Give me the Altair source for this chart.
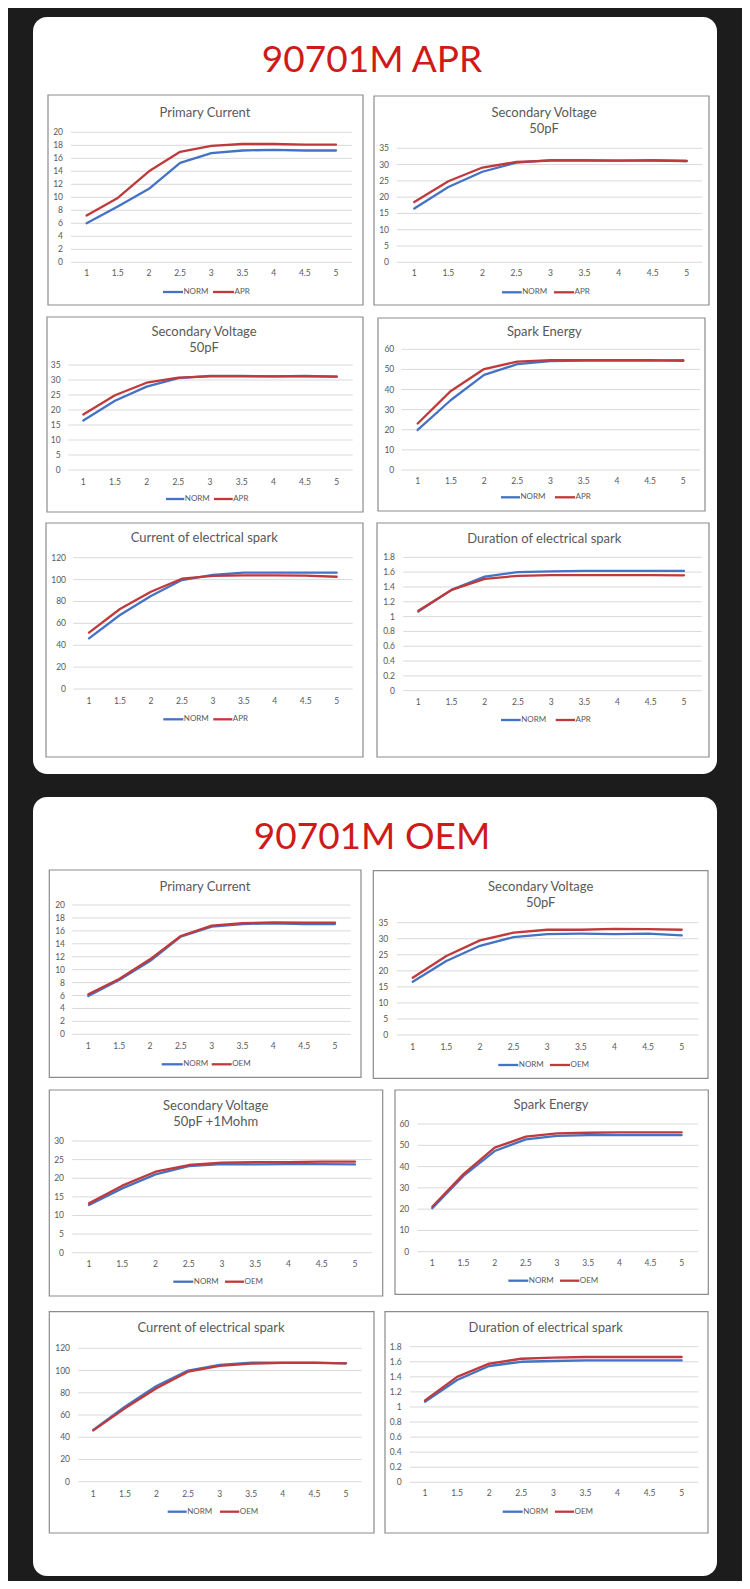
import altair as alt
import pandas as pd

FONT = "Lato"
BLUE = "#4472C4"
RED = "#C0393B"
GRID = "#D9D9D9"
TXT = "#595959"
BORDER = "#8C8C8C"
TITLE_RED = "#CF1A1A"
BG = "#1c1c1c"

# ---------------- data ----------------
x_vals = [1, 1.5, 2, 2.5, 3, 3.5, 4, 4.5, 5]
x_labels = ["1", "1.5", "2", "2.5", "3", "3.5", "4", "4.5", "5"]

ticks_20 = [0, 2, 4, 6, 8, 10, 12, 14, 16, 18, 20]
labels_20 = ["0", "2", "4", "6", "8", "10", "12", "14", "16", "18", "20"]
ticks_35 = [0, 5, 10, 15, 20, 25, 30, 35]
labels_35 = ["0", "5", "10", "15", "20", "25", "30", "35"]
ticks_30 = [0, 5, 10, 15, 20, 25, 30]
labels_30 = ["0", "5", "10", "15", "20", "25", "30"]
ticks_60 = [0, 10, 20, 30, 40, 50, 60]
labels_60 = ["0", "10", "20", "30", "40", "50", "60"]
ticks_120 = [0, 20, 40, 60, 80, 100, 120]
labels_120 = ["0", "20", "40", "60", "80", "100", "120"]
ticks_18 = [0, 0.2, 0.4, 0.6, 0.8, 1.0, 1.2, 1.4, 1.6, 1.8]
labels_18 = ["0", "0.2", "0.4", "0.6", "0.8", "1", "1.2", "1.4", "1.6", "1.8"]

# 90701M APR
apr_primary_norm = [6.0, 8.6, 11.3, 15.3, 16.8, 17.2, 17.3, 17.2, 17.2]
apr_primary_apr = [7.2, 9.9, 14.0, 17.0, 17.9, 18.2, 18.2, 18.1, 18.1]
apr_sv_norm = [16.5, 23.1, 27.8, 30.6, 31.4, 31.4, 31.2, 31.4, 31.1]
apr_sv_apr = [18.5, 24.9, 29.1, 30.8, 31.2, 31.2, 31.2, 31.2, 31.1]
apr_energy_norm = [19.9, 34.8, 47.3, 52.6, 54.1, 54.4, 54.4, 54.4, 54.6]
apr_energy_apr = [23.1, 39.3, 50.2, 53.9, 54.6, 54.6, 54.6, 54.6, 54.2]
apr_current_norm = [46.3, 67.6, 85.0, 99.6, 104.2, 106.3, 106.3, 106.3, 106.3]
apr_current_apr = [51.5, 73.1, 88.9, 100.8, 103.3, 103.9, 103.9, 103.6, 102.6]
apr_duration_norm = [1.067, 1.36, 1.54, 1.60, 1.61, 1.616, 1.616, 1.616, 1.616]
apr_duration_apr = [1.08, 1.36, 1.51, 1.55, 1.56, 1.56, 1.56, 1.56, 1.557]

# 90701M OEM
oem_primary_norm = [5.93, 8.4, 11.34, 15.1, 16.65, 17.06, 17.16, 17.06, 17.06]
oem_primary_oem = [6.19, 8.56, 11.6, 15.2, 16.8, 17.2, 17.3, 17.27, 17.27]
oem_sv_norm = [16.6, 23.05, 27.8, 30.5, 31.46, 31.57, 31.46, 31.57, 31.05]
oem_sv_oem = [17.86, 24.6, 29.5, 31.9, 32.8, 32.8, 33.1, 33.0, 32.8]
oem_sv1m_norm = [12.8, 17.28, 21.04, 23.28, 23.8, 23.7, 23.8, 23.8, 23.7]
oem_sv1m_oem = [13.25, 18.0, 21.75, 23.55, 24.17, 24.35, 24.35, 24.44, 24.44]
oem_energy_norm = [20.4, 35.6, 47.3, 52.8, 54.4, 54.8, 54.8, 54.8, 54.8]
oem_energy_oem = [21.15, 36.5, 48.9, 54.05, 55.6, 55.9, 56.1, 56.1, 56.1]
oem_current_norm = [46.5, 67.5, 86.1, 99.9, 105.0, 107.1, 107.1, 107.1, 106.5]
oem_current_oem = [46.2, 66.0, 84.0, 99.0, 104.1, 106.2, 106.8, 106.8, 106.5]
oem_duration_norm = [1.07, 1.358, 1.544, 1.60, 1.61, 1.619, 1.619, 1.619, 1.619]
oem_duration_oem = [1.088, 1.40, 1.575, 1.64, 1.654, 1.663, 1.663, 1.663, 1.663]

# ---------------- layout (page pixel positions) ----------------
CARDS = [
    dict(title="90701M APR", left=33, top=17, width=684, height=757, tx=372, ty=61),
    dict(title="90701M OEM", left=33, top=797, width=684, height=779, tx=372, ty=838),
]

PANELS = [
    dict(card=0, title=["Primary Current"], norm=apr_primary_norm, other=apr_primary_apr, name="APR",
         ticks=ticks_20, tick_labels=labels_20, ymax=20,
         box=(48, 95, 363, 305), tcx=205, tcy=[113], y0=262.3, ytop=132.3, gx=(71, 352), ylx=63,
         xr=(86.6, 336), xly=273, ly=292, l1=(163, 183), l2=(213, 234)),
    dict(card=0, title=["Secondary Voltage", "50pF"], norm=apr_sv_norm, other=apr_sv_apr, name="APR",
         ticks=ticks_35, tick_labels=labels_35, ymax=35,
         box=(374, 96, 709, 305), tcx=544, tcy=[112.7, 129], y0=262.3, ytop=148.3, gx=(396.7, 702), ylx=389,
         xr=(414.3, 686.7), xly=273.3, ly=292.3, l1=(502, 521.7), l2=(554, 574)),
    dict(card=0, title=["Secondary Voltage", "50pF"], norm=apr_sv_norm, other=apr_sv_apr, name="APR",
         ticks=ticks_35, tick_labels=labels_35, ymax=35,
         box=(47, 317, 363, 512), tcx=204, tcy=[331.7, 347.7], y0=470, ytop=365, gx=(68.3, 352.7), ylx=60.7,
         xr=(83.3, 336.7), xly=481.7, ly=499, l1=(166, 184.3), l2=(214, 232.7)),
    dict(card=0, title=["Spark Energy"], norm=apr_energy_norm, other=apr_energy_apr, name="APR",
         ticks=ticks_60, tick_labels=labels_60, ymax=60,
         box=(378, 318, 705, 511), tcx=544.3, tcy=[332.3], y0=470, ytop=349.3, gx=(401.7, 700), ylx=394.3,
         xr=(417.7, 683.3), xly=481, ly=497.3, l1=(501, 520), l2=(555, 575)),
    dict(card=0, title=["Current of electrical spark"], norm=apr_current_norm, other=apr_current_apr, name="APR",
         ticks=ticks_120, tick_labels=labels_120, ymax=120,
         box=(46, 523, 363, 757), tcx=204.3, tcy=[538.3], y0=689, ytop=557.7, gx=(73.3, 352.7), ylx=66,
         xr=(89, 336.7), xly=700.7, ly=719.3, l1=(163.3, 183.3), l2=(213.3, 232.3)),
    dict(card=0, title=["Duration of electrical spark"], norm=apr_duration_norm, other=apr_duration_apr, name="APR",
         ticks=ticks_18, tick_labels=labels_18, ymax=1.8,
         box=(377, 523, 709, 757), tcx=544.3, tcy=[539], y0=690.7, ytop=557.3, gx=(403.3, 701.7), ylx=395,
         xr=(418.3, 684), xly=702.3, ly=720, l1=(501, 520.7), l2=(555.7, 575)),
    dict(card=1, title=["Primary Current"], norm=oem_primary_norm, other=oem_primary_oem, name="OEM",
         ticks=ticks_20, tick_labels=labels_20, ymax=20,
         box=(49.3, 870, 361, 1077.3), tcx=205, tcy=[886.7], y0=1034.3, ytop=905, gx=(72.3, 350.7), ylx=65,
         xr=(88.3, 335), xly=1045.7, ly=1064.3, l1=(161.7, 182.7), l2=(211.7, 231.7)),
    dict(card=1, title=["Secondary Voltage", "50pF"], norm=oem_sv_norm, other=oem_sv_oem, name="OEM",
         ticks=ticks_35, tick_labels=labels_35, ymax=35,
         box=(373.3, 870.7, 708, 1078.3), tcx=540.7, tcy=[887.3, 903.3], y0=1035, ytop=922.7, gx=(396.7, 698.3), ylx=388.3,
         xr=(412.7, 681.7), xly=1046.7, ly=1065, l1=(498.3, 518.3), l2=(550, 570)),
    dict(card=1, title=["Secondary Voltage", "50pF +1Mohm"], norm=oem_sv1m_norm, other=oem_sv1m_oem, name="OEM",
         ticks=ticks_30, tick_labels=labels_30, ymax=30,
         box=(49.3, 1090, 382.7, 1296), tcx=215.7, tcy=[1105.7, 1122.3], y0=1252.7, ytop=1141, gx=(72.3, 371.7), ylx=64,
         xr=(89, 355), xly=1264, ly=1281.7, l1=(173.3, 193.3), l2=(225, 244)),
    dict(card=1, title=["Spark Energy"], norm=oem_energy_norm, other=oem_energy_oem, name="OEM",
         ticks=ticks_60, tick_labels=labels_60, ymax=60,
         box=(395, 1090, 708.3, 1294.3), tcx=551, tcy=[1105], y0=1251.7, ytop=1124, gx=(417.7, 698.3), ylx=409.3,
         xr=(432.3, 681.7), xly=1262.7, ly=1280.7, l1=(508.3, 528.3), l2=(560, 579.3)),
    dict(card=1, title=["Current of electrical spark"], norm=oem_current_norm, other=oem_current_oem, name="OEM",
         ticks=ticks_120, tick_labels=labels_120, ymax=120,
         box=(49.3, 1311.7, 374, 1533), tcx=211, tcy=[1328.3], y0=1481.7, ytop=1348.3, gx=(78.3, 361.7), ylx=70,
         xr=(93.3, 346), xly=1494, ly=1511.7, l1=(167.7, 186.7), l2=(220, 239.3)),
    dict(card=1, title=["Duration of electrical spark"], norm=oem_duration_norm, other=oem_duration_oem, name="OEM",
         ticks=ticks_18, tick_labels=labels_18, ymax=1.8,
         box=(385, 1311.7, 708, 1533), tcx=545.7, tcy=[1327.7], y0=1482.3, ytop=1346.7, gx=(410, 698.3), ylx=401.7,
         xr=(425, 681.7), xly=1493.3, ly=1511.7, l1=(502.7, 522.7), l2=(555, 574)),
]


def one(v):
    return pd.DataFrame({"t": [v]})


def panel_layers(p, card):
    cl, ct = card["left"], card["top"]
    bx0, by0, bx1, by1 = p["box"]
    xs = alt.Scale(domain=[1, 5], range=[p["xr"][0] - cl, p["xr"][1] - cl], nice=False, zero=False)
    ys = alt.Scale(domain=[0, p["ymax"]], range=[p["y0"] - ct, p["ytop"] - ct], nice=False, zero=False)
    layers = []
    # chart box
    layers.append(
        alt.Chart(one(0)).mark_rect(fill="white", stroke=BORDER, strokeWidth=1.2).encode(
            x=alt.value(bx0 - cl), x2=alt.value(bx1 - cl), y=alt.value(by0 - ct), y2=alt.value(by1 - ct)
        )
    )
    # gridlines
    layers.append(
        alt.Chart(pd.DataFrame({"t": p["ticks"]})).mark_rule(color=GRID, strokeWidth=1).encode(
            y=alt.Y("t:Q", scale=ys, axis=None), x=alt.value(p["gx"][0] - cl), x2=alt.value(p["gx"][1] - cl)
        )
    )
    # y tick labels
    layers.append(
        alt.Chart(pd.DataFrame({"t": p["ticks"], "l": p["tick_labels"]})).mark_text(
            align="right", baseline="middle", font=FONT, fontSize=8.5, color=TXT
        ).encode(y=alt.Y("t:Q", scale=ys, axis=None), x=alt.value(p["ylx"] - cl), text="l:N")
    )
    # x tick labels
    layers.append(
        alt.Chart(pd.DataFrame({"x": x_vals, "l": x_labels})).mark_text(
            align="center", baseline="middle", font=FONT, fontSize=8.5, color=TXT
        ).encode(x=alt.X("x:Q", scale=xs, axis=None), y=alt.value(p["xly"] - ct), text="l:N")
    )
    # series lines
    for vals, col in ((p["norm"], BLUE), (p["other"], RED)):
        layers.append(
            alt.Chart(pd.DataFrame({"x": x_vals, "v": vals})).mark_line(
                color=col, strokeWidth=2.3, strokeCap="round", strokeJoin="round"
            ).encode(x=alt.X("x:Q", scale=xs, axis=None), y=alt.Y("v:Q", scale=ys, axis=None))
        )
    # title
    for line, cy in zip(p["title"], p["tcy"]):
        layers.append(
            alt.Chart(one(line)).mark_text(
                align="center", baseline="middle", font=FONT, fontSize=13, color=TXT
            ).encode(x=alt.value(p["tcx"] - cl), y=alt.value(cy - ct), text="t:N")
        )
    # legend
    for (a, b), col, name in ((p["l1"], BLUE, "NORM"), (p["l2"], RED, p["name"])):
        layers.append(
            alt.Chart(one(name)).mark_rule(color=col, strokeWidth=2.3).encode(
                x=alt.value(a - cl), x2=alt.value(b - cl), y=alt.value(p["ly"] - ct)
            )
        )
        layers.append(
            alt.Chart(one(name)).mark_text(
                align="left", baseline="middle", font=FONT, fontSize=8, color=TXT
            ).encode(x=alt.value(b - cl + 0.5), y=alt.value(p["ly"] - ct), text="t:N")
        )
    return layers


cards = []
for ci, card in enumerate(CARDS):
    layers = []
    for p in PANELS:
        if p["card"] == ci:
            layers.extend(panel_layers(p, card))
    layers.append(
        alt.Chart(one(card["title"])).mark_text(
            align="center", baseline="middle", font=FONT, fontSize=37, color=TITLE_RED
        ).encode(x=alt.value(card["tx"] - card["left"]), y=alt.value(card["ty"] - card["top"]), text="t:N")
    )
    cards.append(
        alt.layer(*layers)
        .resolve_scale(x="independent", y="independent")
        .properties(width=card["width"], height=card["height"])
    )

chart = (
    alt.vconcat(*cards, spacing=CARDS[1]["top"] - CARDS[0]["top"] - CARDS[0]["height"])
    .properties(background=BG, padding={"left": 25, "top": 9, "right": 25, "bottom": 5})
    .configure_view(fill="white", cornerRadius=14, strokeWidth=0)
)

chart.save("out.html", embed_options={"renderer": "svg", "actions": False})
